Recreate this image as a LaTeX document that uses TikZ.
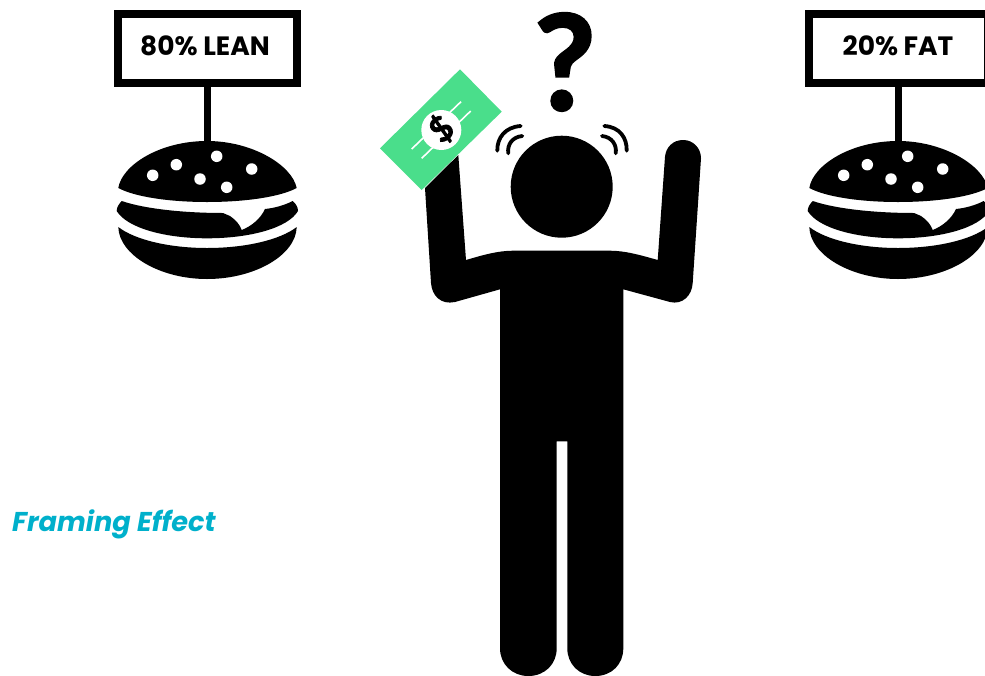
\documentclass[tikz,border=0pt]{standalone}
\usepackage{fontspec}
\setmainfont{Poppins}
\newfontfamily\heavyfont[BoldFeatures={FakeBold=2.2}]{Lato}
\definecolor{billgreen}{HTML}{4ADE8B}
\definecolor{titleblue}{HTML}{00B0CB}
\tikzset{
  seed/.style={circle,fill=white,draw=none,inner sep=0pt,minimum size=11.5pt},
  signbox/.style={rectangle,draw=black,line width=8pt,fill=white,minimum width=179pt,minimum height=69pt,inner sep=0pt},
  signtext/.style={inner sep=0pt,font=\fontsize{26.5}{28}\selectfont\bfseries},
  pole/.style={line width=6.5pt,draw=black},
  wave/.style={line width=3.8pt,line cap=round,draw=black},
  billline/.style={line width=1.6pt,draw=white},
  burger/.pic={
    \fill[black] (118.3,188) .. controls (122,165) and (160,141) .. (207,141)
      .. controls (252,141) and (292,165) .. (296.7,188)
      .. controls (280,197) and (245,202) .. (207,202)
      .. controls (170,202) and (135,197) .. (118.3,188) -- cycle;
    \fill[black] (121.7,201) .. controls (145,209) and (185,213) .. (223,213)
      -- (230,216) .. controls (236,220) and (240,225) .. (241.7,230)
      .. controls (252,226) and (261,218) .. (265,209)
      .. controls (275,208) and (285,205) .. (292.7,201)
      .. controls (296,204) and (298,207) .. (298,211)
      .. controls (288,228) and (250,238.3) .. (207,238.3)
      .. controls (165,238.3) and (127,228) .. (116.7,211)
      .. controls (116.7,207) and (119,204) .. (121.7,201) -- cycle;
    \fill[black] (118.3,227) .. controls (135,240) and (170,248) .. (207,248)
      .. controls (245,248) and (280,240) .. (296.7,227)
      .. controls (296,255) and (255,279) .. (207,279)
      .. controls (160,279) and (119,255) .. (118.3,227) -- cycle;
    \node[seed] at (152.7,175.3) {};
    \node[seed] at (176.3,164.7) {};
    \node[seed] at (216.7,156.3) {};
    \node[seed] at (251.7,169) {};
    \node[seed] at (200,179) {};
    \node[seed] at (226.7,187.3) {};
  }
}
\begin{document}
\begin{tikzpicture}[x=1pt,y=-1pt]
\clip (0,0) rectangle (985,675);
% burgers
\pic at (0,0) {burger};
\pic at (691,0) {burger};
% signs
\node[signbox] (signL) at (207.3,48.6) {};
\node[signbox] (signR) at (898.3,48.6) {};
\coordinate (bunL) at (207.3,143);
\coordinate (bunR) at (898.3,143);
\draw[pole] (signL.south) -- (bunL);
\draw[pole] (signR.south) -- (bunR);
\node[signtext] (textL) at (205,46) {80\% LEAN};
\node[signtext] (textR) at (898,46) {20\% FAT};
% person
\fill[black] (425,188) -- (431,283) .. controls (432,296) and (441,305) .. (455,302)
  -- (500,289.3) -- (500,648.3)
  .. controls (500,664) and (512,676) .. (528.3,676)
  .. controls (545,676) and (556.7,664) .. (556.7,648.3)
  -- (556.7,441.3) -- (567.3,441.3) -- (567.3,648.3)
  .. controls (567.3,664) and (579,676) .. (595.3,676)
  .. controls (612,676) and (623.3,664) .. (623.3,648.3)
  -- (623.3,289.3) -- (670,302)
  .. controls (682,305) and (692,296) .. (692.7,283)
  -- (701,158.3)
  .. controls (701,148) and (693,140) .. (683.3,140)
  .. controls (673,140) and (666,147) .. (665,156.7)
  -- (657.7,260) .. controls (640,255) and (625,250.7) .. (610,250.7)
  -- (513,250.7) .. controls (498,250.7) and (483,255) .. (466,260)
  -- (458.3,155) -- cycle;
\node[circle,fill=black,draw=none,inner sep=0pt,minimum size=102pt] (head) at (561.7,186.7) {};
% wobble marks
\draw[wave] (520.7,126) .. controls (505,127) and (497,138) .. (497.3,150.7);
\draw[wave] (522.3,136) .. controls (512,137) and (507,145) .. (508.3,153.3);
\draw[wave] (604.3,126) .. controls (620,127) and (627,138) .. (626.7,150.7);
\draw[wave] (602,136) .. controls (612,137) and (617,145) .. (615.7,153.3);
% question mark
\node[inner sep=0pt,font=\fontsize{132}{132}\selectfont\heavyfont\bfseries] (qmark) at (565,62) {?};
% bill
\fill[billgreen] (460,69.3) -- (501.7,111.7) -- (421.7,190) -- (380,148.3) -- cycle;
\draw[billline] (411.7,149) -- (461,101.7);
\draw[billline] (421.7,158.3) -- (470.7,111);
\node[circle,fill=white,draw=none,inner sep=0pt,minimum size=40pt] (coin) at (441.3,130) {};
\node[inner sep=0pt,rotate=40,font=\fontsize{34}{35}\selectfont\heavyfont\bfseries] (dollar) at (441.3,129) {\$};
% title
\node[anchor=west,inner sep=0pt,text=titleblue,font=\fontsize{27.2}{29}\selectfont\bfseries\itshape] (title) at (12,524) {Framing Effect};
\end{tikzpicture}
\end{document}
